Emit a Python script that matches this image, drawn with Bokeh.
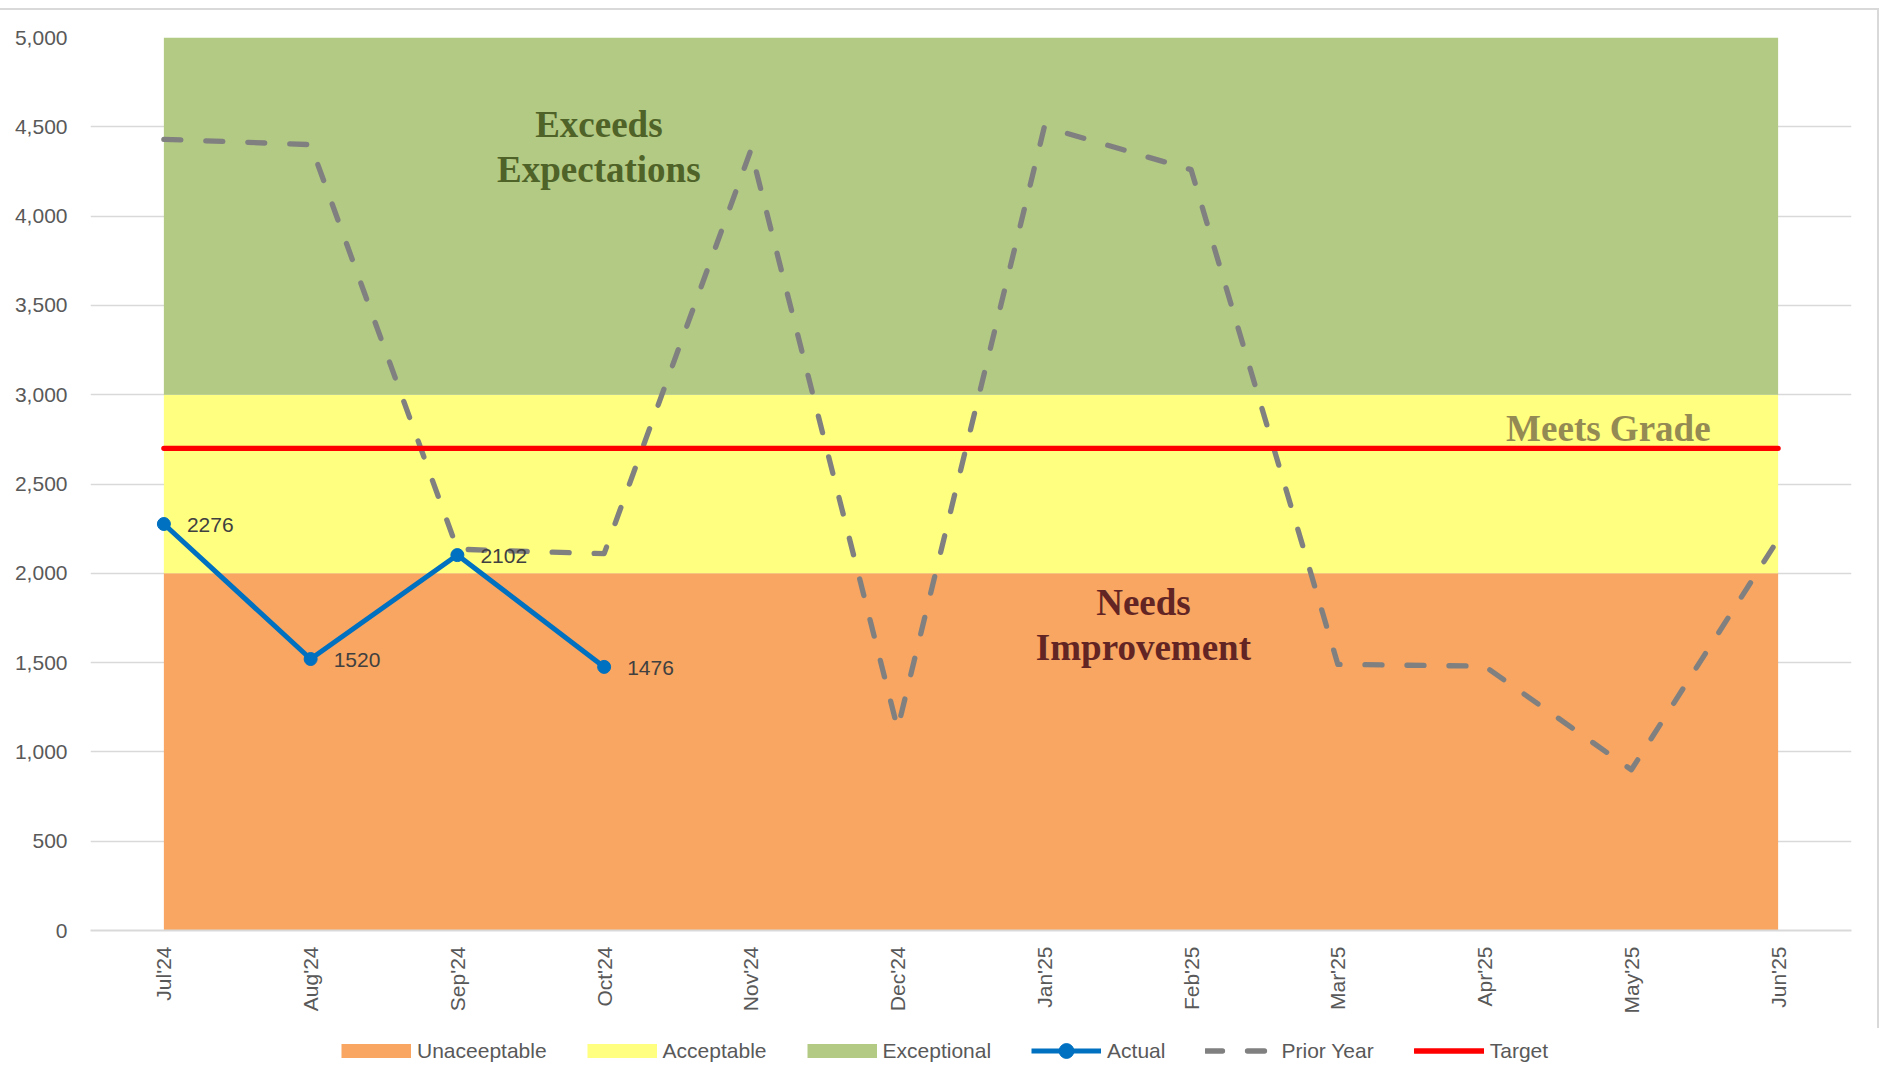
import math
from bokeh.plotting import figure
from bokeh.layouts import column
from bokeh.models import (FixedTicker, NumeralTickFormatter, Legend, LegendItem, Range1d)
from bokeh.core.properties import value
from bokeh.embed import file_html
from bokeh.resources import INLINE

# ---------------- data ----------------
months = ["Jul'24", "Aug'24", "Sep'24", "Oct'24", "Nov'24", "Dec'24",
          "Jan'25", "Feb'25", "Mar'25", "Apr'25", "May'25", "Jun'25"]
actual = [2276, 1520, 2102, 1476]
prior_year = [4430, 4400, 2135, 2110, 4370, 1130, 4500, 4260, 1490, 1480, 900, 2190]
target = 2700
band_names = ["Unaceeptable", "Acceptable", "Exceptional"]
band_lower = [0, 2000, 3000]
band_upper = [2000, 3000, 5000]
y_ticks = [0, 500, 1000, 1500, 2000, 2500, 3000, 3500, 4000, 4500, 5000]

# ---------------- styles ----------------
band_colors = ["#F8A662", "#FFFF80", "#B3CA84"]
BLUE = "#0070C0"
GRAY = "#808080"
RED = "#FF0000"
GRID = "#D9D9D9"
TICK = "#595959"
SANS = "Liberation Sans"
SERIF = "Liberation Serif"

x = list(range(len(months)))
xa = x[:len(actual)]

prior_style = dict(line_color=GRAY, line_width=5.3, line_dash="17 25",
                   line_cap="round", line_join="round")
target_style = dict(line_color=RED, line_width=5.3, line_cap="round")
act_style = dict(line_color=BLUE, line_width=5, line_join="round")
pt_style = dict(size=13, fill_color=BLUE, line_color=BLUE)

p = figure(frame_width=1759, frame_height=891,
           x_range=Range1d(-0.5, len(months) - 0.5), y_range=Range1d(0, 5000),
           output_backend="svg", toolbar_location=None,
           min_border_left=90, min_border_right=28, min_border_top=27,
           min_border_bottom=100, outline_line_color=None,
           background_fill_color="white", border_fill_color="white")
p.styles = {"margin-top": "8px",
            "border-top": "2px solid #D9D9D9", "border-right": "2px solid #D9D9D9"}

# bands
for lo, hi, c in zip(band_lower, band_upper, band_colors):
    p.varea(x=x, y1=[lo] * len(x), y2=[hi] * len(x), fill_color=c)

# annotations
p.text(x=[2.964, 2.964], y=[4512, 4261], text=["Exceeds", "Expectations"],
       text_font=value(SERIF), text_font_style="bold", text_font_size="37px",
       text_align="center", text_baseline="alphabetic", text_color="#4F6228")
p.text(x=[9.843], y=[2808], text=["Meets Grade"],
       text_font=value(SERIF), text_font_style="bold", text_font_size="37px",
       text_align="center", text_baseline="alphabetic", text_color="#948A54")
p.text(x=[6.675, 6.675], y=[1837, 1585], text=["Needs", "Improvement"],
       text_font=value(SERIF), text_font_style="bold", text_font_size="37px",
       text_align="center", text_baseline="alphabetic", text_color="#632523")

# lines
p.line(x=x, y=prior_year, **prior_style)
p.line(x=x, y=[target] * len(x), **target_style)
p.line(x=xa, y=actual, **act_style)
p.scatter(x=xa, y=actual, **pt_style)
p.text(x=xa, y=actual, text=[str(v) for v in actual], x_offset=23, y_offset=1,
       text_baseline="middle", text_align="left", text_font=value(SANS),
       text_font_size="21px", text_color="#404040")

# axes
p.xaxis.ticker = FixedTicker(ticks=x)
p.xaxis.major_label_overrides = {i: m for i, m in enumerate(months)}
p.xaxis.major_label_orientation = math.pi / 2
p.xaxis.major_tick_line_color = None
p.xaxis.minor_tick_line_color = None
p.xaxis.axis_line_color = GRID
p.xaxis.axis_line_width = 2
p.xaxis.major_label_standoff = 10
p.xaxis.major_label_text_font = SANS
p.xaxis.major_label_text_font_size = "21px"
p.xaxis.major_label_text_color = TICK

p.yaxis.ticker = FixedTicker(ticks=y_ticks)
p.yaxis.formatter = NumeralTickFormatter(format="0,0")
p.yaxis.major_tick_line_color = None
p.yaxis.minor_tick_line_color = None
p.yaxis.axis_line_color = None
p.yaxis.major_label_standoff = 17
p.yaxis.major_label_text_font = SANS
p.yaxis.major_label_text_font_size = "21px"
p.yaxis.major_label_text_color = TICK

p.xgrid.grid_line_color = None
p.ygrid.grid_line_color = GRID
p.ygrid.grid_line_width = 1.5
p.ygrid.ticker = FixedTicker(ticks=y_ticks)

# ---------------- legend strip (own small figure; series kept out of view) ----------------
lg = figure(frame_width=1870, frame_height=50,
            x_range=Range1d(1000, 1001), y_range=Range1d(100000, 100001),
            output_backend="svg", toolbar_location=None,
            min_border_left=0, min_border_right=0, min_border_top=0, min_border_bottom=0,
            outline_line_color=None, x_axis_type=None, y_axis_type=None,
            background_fill_color="white", border_fill_color="white")
lg.grid.visible = False
band_proxies = [lg.line(x=x, y=[hi] * len(x), line_color=c, line_width=14, line_cap="butt")
                for hi, c in zip(band_upper, band_colors)]
act_l = lg.line(x=xa, y=actual, **act_style)
act_p = lg.scatter(x=xa, y=actual, **pt_style)
prior_l = lg.line(x=x, y=prior_year, **prior_style)
target_l = lg.line(x=x, y=[target] * len(x), **target_style)

items = [LegendItem(label=n, renderers=[r]) for n, r in zip(band_names, band_proxies)]
items += [LegendItem(label="Actual", renderers=[act_l, act_p]),
          LegendItem(label="Prior Year", renderers=[prior_l]),
          LegendItem(label="Target", renderers=[target_l])]
legend = Legend(items=items, location=(341, 9), orientation="horizontal",
                glyph_width=70, glyph_height=37, label_standoff=6, spacing=40,
                padding=0, margin=0, border_line_color=None,
                background_fill_alpha=0, label_text_font=SANS,
                label_text_font_size="21px", label_text_color=TICK)
lg.add_layout(legend, "center")

layout = column(p, lg, spacing=0)
open("out.html", "w").write(file_html(layout, INLINE))
